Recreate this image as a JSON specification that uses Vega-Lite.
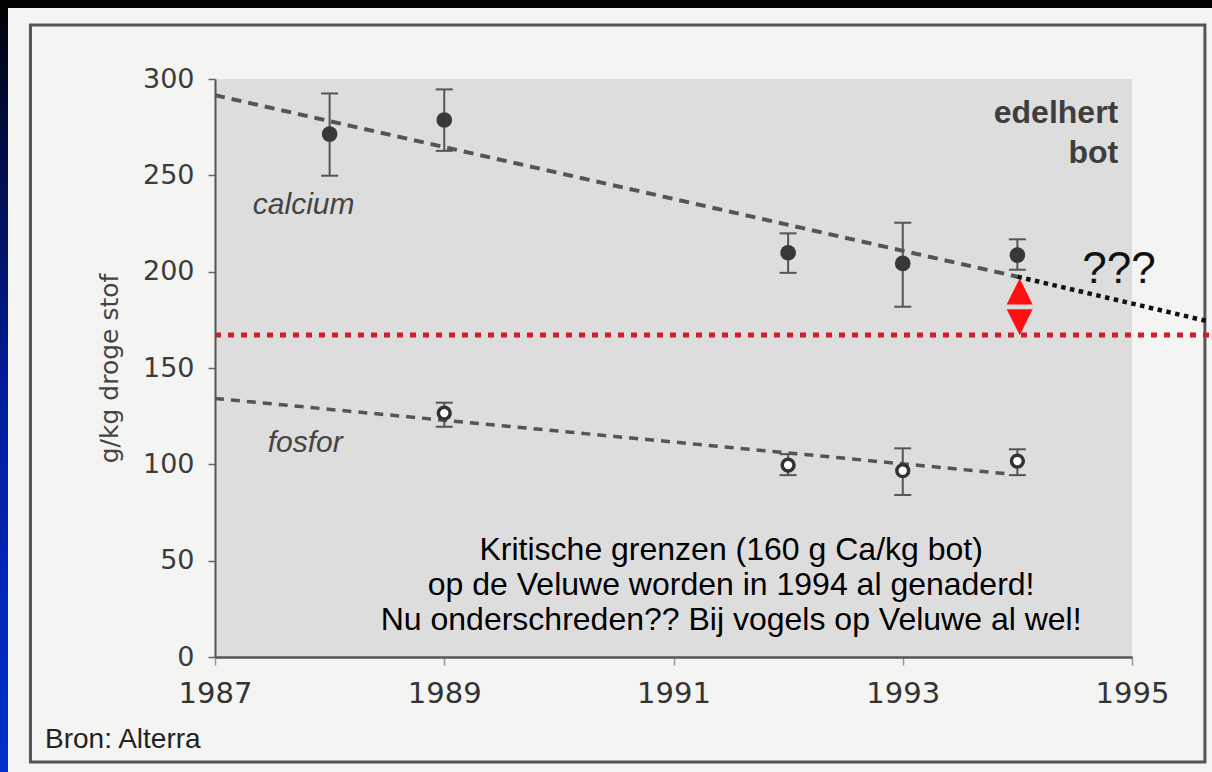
{
  "$schema": "https://vega.github.io/schema/vega-lite/v6.json",
  "autosize": {"type": "none"},
  "padding": {"left": 215, "top": 79, "right": 80, "bottom": 115},
  "width": 917,
  "height": 578,
  "background": "#0a1e8c",
  "config": {
    "view": {"stroke": null},
    "axis": {"grid": false, "labelFlush": false, "labelOverlap": false}
  },
  "data": {"values": [{}]},
  "datasets": {
    "meas": [
      {"element": "calcium", "year": 1988, "mean": 271.4, "lo": 249.8, "hi": 292.5},
      {"element": "calcium", "year": 1989, "mean": 278.7, "lo": 262.7, "hi": 294.6},
      {"element": "calcium", "year": 1992, "mean": 209.8, "lo": 199.4, "hi": 219.9},
      {"element": "calcium", "year": 1993, "mean": 204.3, "lo": 181.8, "hi": 225.4},
      {"element": "calcium", "year": 1994, "mean": 208.6, "lo": 201.0, "hi": 216.8},
      {"element": "fosfor", "year": 1989, "mean": 126.6, "lo": 119.5, "hi": 132.0},
      {"element": "fosfor", "year": 1992, "mean": 99.6, "lo": 94.4, "hi": 105.3},
      {"element": "fosfor", "year": 1993, "mean": 96.7, "lo": 84.1, "hi": 108.3},
      {"element": "fosfor", "year": 1994, "mean": 101.7, "lo": 94.4, "hi": 107.8}
    ],
    "caTrend": [{"year": 1987, "value": 291.6}, {"year": 1994, "value": 197.4}],
    "caExtrap": [{"year": 1994, "value": 197.4}, {"year": 1995.68, "value": 174.0}],
    "pTrend": [{"year": 1987, "value": 134.2}, {"year": 1993.93, "value": 95.0}],
    "limit": [{"year": 1987, "value": 167.1}, {"year": 1995.7, "value": 167.1}]
  },
  "layer": [
    {
      "mark": {"type": "rect", "fill": {"gradient": "linear", "x1": 0, "y1": 0, "x2": 0, "y2": 1, "stops": [{"offset": 0, "color": "#000000"}, {"offset": 0.12, "color": "#020830"}, {"offset": 0.5, "color": "#001c9a"}, {"offset": 1, "color": "#0030cc"}]}},
      "encoding": {
        "x": {"datum": 1985.12, "type": "quantitative", "scale": {"domain": [1987, 1995], "nice": false, "zero": false},
              "axis": {"zindex": 2, "title": null, "values": [1987, 1989, 1991, 1993, 1995], "format": "d", "labelFont": "DejaVu Sans", "labelFontSize": 29, "labelColor": "#333333", "labelPadding": 14, "tickSize": 8, "tickColor": "#999999", "tickWidth": 1.5, "domainColor": "#555555", "domainWidth": 2.5}},
        "x2": {"datum": 1995.71},
        "y": {"datum": 341, "type": "quantitative", "scale": {"domain": [0, 300], "nice": false, "zero": true},
              "axis": {"zindex": 2, "title": "g/kg droge stof", "values": [0, 50, 100, 150, 200, 250, 300], "labelFont": "DejaVu Sans", "labelFontSize": 27, "labelColor": "#3c3c3c", "labelPadding": 14, "tickSize": 7, "tickColor": "#666666", "tickWidth": 1.5, "domainColor": "#555555", "domainWidth": 2, "titleFont": "DejaVu Sans", "titleFontSize": 25, "titleFontWeight": "normal", "titleColor": "#444444", "titlePadding": 20}},
        "y2": {"datum": -60}
      }
    },
    {
      "mark": {"type": "rect", "fill": "#f4f4f2"},
      "encoding": {"x": {"datum": 1985.194}, "x2": {"datum": 1995.71}, "y": {"datum": 336.8}, "y2": {"datum": -60}}
    },
    {
      "mark": {"type": "rect", "fillOpacity": 0, "stroke": "#555555", "strokeWidth": 3},
      "encoding": {"x": {"datum": 1985.39}, "x2": {"datum": 1995.636}, "y": {"datum": 328}, "y2": {"datum": -54.5}}
    },
    {
      "mark": {"type": "rect", "fill": "#dddddd"},
      "encoding": {"x": {"datum": 1987}, "x2": {"datum": 1995}, "y": {"datum": 0}, "y2": {"datum": 300}}
    },
    {
      "data": {"name": "limit"},
      "mark": {"type": "line", "color": "#d01c2c", "strokeWidth": 5, "strokeDash": [6, 7], "strokeCap": "butt"},
      "encoding": {"x": {"field": "year", "type": "quantitative"}, "y": {"field": "value", "type": "quantitative"}}
    },
    {
      "data": {"name": "caTrend"},
      "mark": {"type": "line", "color": "#555555", "strokeWidth": 4, "strokeDash": [10, 7], "strokeCap": "butt"},
      "encoding": {"x": {"field": "year", "type": "quantitative"}, "y": {"field": "value", "type": "quantitative"}}
    },
    {
      "data": {"name": "caExtrap"},
      "mark": {"type": "line", "color": "#111111", "strokeWidth": 4.5, "strokeDash": [4.5, 4.5], "strokeCap": "butt"},
      "encoding": {"x": {"field": "year", "type": "quantitative"}, "y": {"field": "value", "type": "quantitative"}}
    },
    {
      "data": {"name": "pTrend"},
      "mark": {"type": "line", "color": "#555555", "strokeWidth": 3.5, "strokeDash": [9, 7], "strokeCap": "butt"},
      "encoding": {"x": {"field": "year", "type": "quantitative"}, "y": {"field": "value", "type": "quantitative"}}
    },
    {
      "data": {"name": "meas"},
      "mark": {"type": "rule", "color": "#555555", "strokeWidth": 2},
      "encoding": {"x": {"field": "year", "type": "quantitative"}, "y": {"field": "lo", "type": "quantitative"}, "y2": {"field": "hi"}}
    },
    {
      "data": {"name": "meas"},
      "mark": {"type": "tick", "orient": "horizontal", "color": "#555555", "size": 17, "thickness": 2, "opacity": 1},
      "encoding": {"x": {"field": "year", "type": "quantitative"}, "y": {"field": "lo", "type": "quantitative"}}
    },
    {
      "data": {"name": "meas"},
      "mark": {"type": "tick", "orient": "horizontal", "color": "#555555", "size": 17, "thickness": 2, "opacity": 1},
      "encoding": {"x": {"field": "year", "type": "quantitative"}, "y": {"field": "hi", "type": "quantitative"}}
    },
    {
      "data": {"name": "meas"},
      "transform": [{"filter": "datum.element === 'calcium'"}],
      "mark": {"type": "point", "shape": "circle", "filled": true, "color": "#383838", "size": 245, "opacity": 1},
      "encoding": {"x": {"field": "year", "type": "quantitative"}, "y": {"field": "mean", "type": "quantitative"}}
    },
    {
      "data": {"name": "meas"},
      "transform": [{"filter": "datum.element === 'fosfor'"}],
      "mark": {"type": "point", "shape": "circle", "fill": "#ffffff", "stroke": "#333333", "strokeWidth": 3.5, "size": 140, "opacity": 1, "fillOpacity": 1},
      "encoding": {"x": {"field": "year", "type": "quantitative"}, "y": {"field": "mean", "type": "quantitative"}}
    },
    {
      "mark": {"type": "point", "shape": "M0,-1L-1,1L1,1Z", "filled": true, "color": "#ff1010", "size": 676, "opacity": 1},
      "encoding": {"x": {"datum": 1994.02}, "y": {"datum": 189.7}}
    },
    {
      "mark": {"type": "point", "shape": "M0,1L-1,-1L1,-1Z", "filled": true, "color": "#ff1010", "size": 676, "opacity": 1},
      "encoding": {"x": {"datum": 1994.02}, "y": {"datum": 173.8}}
    },
    {
      "mark": {"type": "text", "text": "calcium", "font": "Liberation Sans", "fontStyle": "italic", "fontSize": 30, "color": "#444444", "align": "left", "baseline": "alphabetic"},
      "encoding": {"x": {"datum": 1987.33}, "y": {"datum": 229.9}}
    },
    {
      "mark": {"type": "text", "text": "fosfor", "font": "Liberation Sans", "fontStyle": "italic", "fontSize": 30, "color": "#444444", "align": "left", "baseline": "alphabetic"},
      "encoding": {"x": {"datum": 1987.46}, "y": {"datum": 106.4}}
    },
    {
      "mark": {"type": "text", "text": ["edelhert", "bot"], "font": "Liberation Sans", "fontWeight": "bold", "fontSize": 32, "lineHeight": 40, "color": "#3e3e3e", "align": "right", "baseline": "alphabetic"},
      "encoding": {"x": {"datum": 1994.88}, "y": {"datum": 277.1}}
    },
    {
      "mark": {"type": "text", "text": "???", "font": "Liberation Sans", "fontSize": 44, "color": "#111111", "align": "left", "baseline": "alphabetic"},
      "encoding": {"x": {"datum": 1994.566}, "y": {"datum": 194.1}}
    },
    {
      "mark": {"type": "text", "text": ["Kritische grenzen (160 g Ca/kg bot)", "op de Veluwe worden in 1994 al genaderd!", "Nu onderschreden?? Bij vogels op Veluwe al wel!"], "font": "Liberation Sans", "fontSize": 32, "lineHeight": 35, "color": "#000000", "align": "center", "baseline": "alphabetic"},
      "encoding": {"x": {"datum": 1991.503}, "y": {"datum": 50.6}}
    },
    {
      "mark": {"type": "text", "text": "Bron: Alterra", "font": "Liberation Sans", "fontSize": 28, "color": "#222222", "align": "left", "baseline": "alphabetic"},
      "encoding": {"x": {"datum": 1985.517}, "y": {"datum": -47.3}}
    }
  ]
}
